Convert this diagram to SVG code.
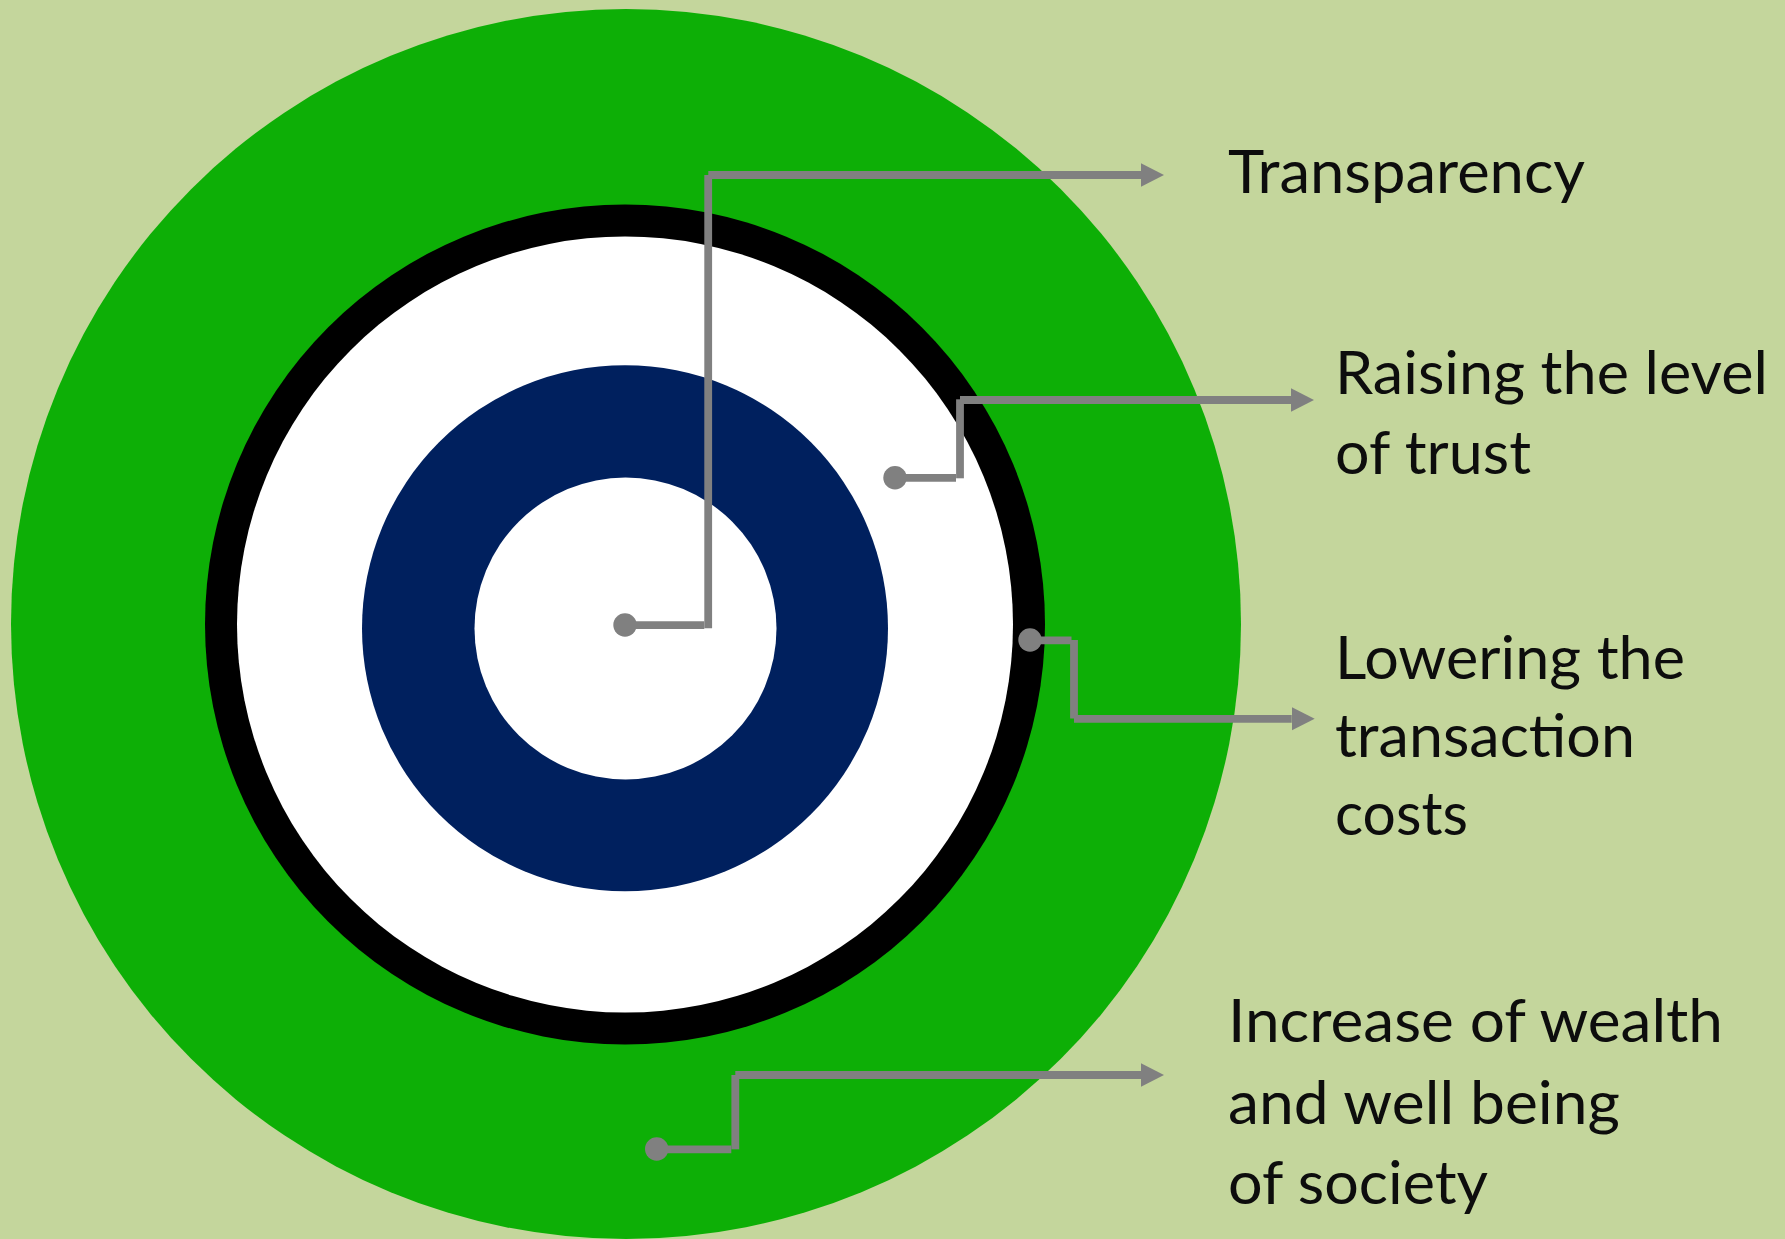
<svg xmlns="http://www.w3.org/2000/svg" width="1785" height="1239" viewBox="0 0 1785 1239">
<style>
.conn{fill:none;stroke:#808080;stroke-width:7.8;stroke-linecap:butt}
.dot{fill:#808080}
.lbl{font-family:Lato,"Open Sans","Liberation Sans",sans-serif;font-size:60px;fill:#0d0d0d}
</style>
<defs>
<marker id="arr" markerUnits="userSpaceOnUse" markerWidth="24" markerHeight="24" viewBox="0 -12 24 24" refX="0" refY="0" orient="auto">
<path d="M0,-11.7 L23,0 L0,11.7 Z" fill="#808080"/>
</marker>
</defs>
<rect width="1785" height="1239" fill="#c4d69c"/>
<g id="rings">
<circle cx="626" cy="624" r="615" fill="#0daf06"/>
<circle cx="625" cy="624.5" r="420" fill="#000000"/>
<circle cx="625" cy="624.5" r="388" fill="#ffffff"/>
<circle cx="625" cy="628.3" r="263" fill="#00205e"/>
<circle cx="625.5" cy="628.5" r="151" fill="#ffffff"/>
</g>
<g id="connectors">
<circle class="dot" cx="625" cy="625" r="11.7"/>
<path class="conn" d="M625,625.2 H704.3"/>
<path class="conn" d="M708.2,628.3 V175"/>
<path class="conn" d="M708.3,175 H1141" marker-end="url(#arr)"/>

<circle class="dot" cx="895" cy="477.7" r="11.7"/>
<path class="conn" d="M895,477.8 H956"/>
<path class="conn" d="M960,478.3 V399.3"/>
<path class="conn" d="M960,400 H1291" marker-end="url(#arr)"/>

<circle class="dot" cx="1030" cy="640" r="11.7"/>
<path class="conn" d="M1030,640.3 H1071.5"/>
<path class="conn" d="M1074,640 V718.5"/>
<path class="conn" d="M1074,718.8 H1291.7" marker-end="url(#arr)"/>

<circle class="dot" cx="656.7" cy="1149" r="11.7"/>
<path class="conn" d="M656.7,1149.3 H731.3"/>
<path class="conn" d="M735.3,1149.3 V1075"/>
<path class="conn" d="M735.3,1075 H1141" marker-end="url(#arr)"/>
</g>
<g id="label-transparency">
<text class="lbl" x="1228" y="193" textLength="357" lengthAdjust="spacingAndGlyphs">Transparency</text>
</g>
<g id="label-trust">
<text class="lbl" x="1335" y="394" textLength="433" lengthAdjust="spacingAndGlyphs">Raising the level</text>
<text class="lbl" x="1335" y="474" textLength="196" lengthAdjust="spacingAndGlyphs">of trust</text>
</g>
<g id="label-costs">
<text class="lbl" x="1335" y="679" textLength="350" lengthAdjust="spacingAndGlyphs">Lowering the</text>
<text class="lbl" x="1335" y="757" textLength="300" lengthAdjust="spacingAndGlyphs">transaction</text>
<text class="lbl" x="1335" y="835" textLength="133" lengthAdjust="spacingAndGlyphs">costs</text>
</g>
<g id="label-wealth">
<text class="lbl" x="1228" y="1042" textLength="495" lengthAdjust="spacingAndGlyphs">Increase of wealth</text>
<text class="lbl" x="1228" y="1124" textLength="392" lengthAdjust="spacingAndGlyphs">and well being</text>
<text class="lbl" x="1228" y="1204" textLength="260" lengthAdjust="spacingAndGlyphs">of society</text>
</g>
</svg>
